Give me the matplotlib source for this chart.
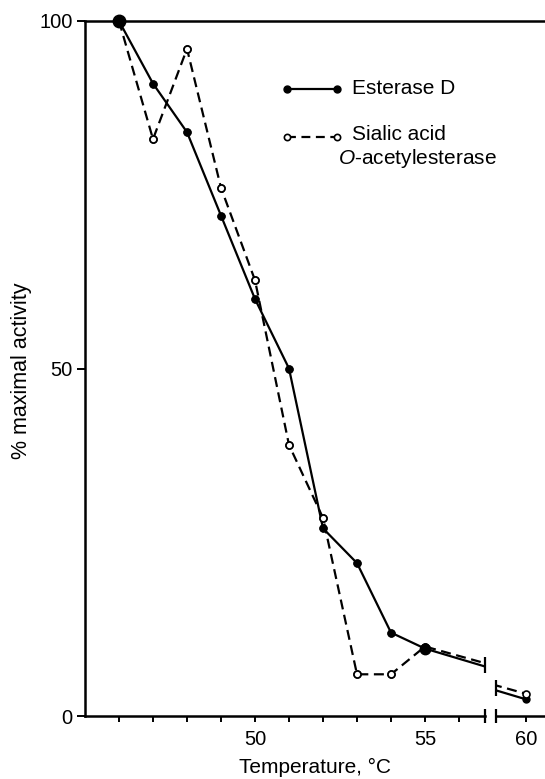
import numpy as np
import matplotlib
matplotlib.use("Agg")
import matplotlib.pyplot as plt
from matplotlib.lines import Line2D

plt.rcParams['font.family'] = ['Liberation Sans', 'DejaVu Sans']
plt.rcParams['mathtext.fontset'] = 'custom'
plt.rcParams['mathtext.rm'] = 'Liberation Sans'
plt.rcParams['mathtext.it'] = 'Liberation Sans:italic'

# ---- data ----
temps = [46, 47, 48, 49, 50, 51, 52, 53, 54, 55, 60]
esterase_d = [100, 91, 84, 72, 60, 50, 27, 22, 12, 9.7, 2.4]
sialic_oae = [100, 83, 96, 76, 62.7, 39, 28.5, 6, 6, 10, 3.2]
left_ticks = [46, 47, 48, 49, 50, 51, 52, 53, 54, 55, 56]
left_labels = ['', '', '', '', '50', '', '', '', '', '55', '']
right_ticks = [60]
right_labels = ['60']
y_ticks = [0, 50, 100]
y_labels = ['0', '50', '100']

W, H = 545, 779
fig = plt.figure(figsize=(W / 100, H / 100), dpi=100)

x0, xb1, xb2, x1 = 85, 485, 496, 545
ytop, ybot = 21, 716
px_per_deg = 34.0
xmin_left = 45.0
xmax_left = xmin_left + (xb1 - x0) / px_per_deg
xmin_right = 60 - (526 - xb2) / px_per_deg
xmax_right = 60 + (x1 - 526) / px_per_deg

axL = fig.add_axes([x0 / W, 1 - ybot / H, (xb1 - x0) / W, (ybot - ytop) / H])
axR = fig.add_axes([xb2 / W, 1 - ybot / H, (x1 - xb2) / W, (ybot - ytop) / H])

lw = 1.6
ms = 5
TFS = 14.5
for ax in (axL, axR):
    ax.plot(temps, esterase_d, '-', color='black', lw=lw, marker='o', ms=ms,
            mfc='black', mec='black', clip_on=True, zorder=3)
    ax.plot(temps, sialic_oae, '--', color='black', lw=lw, dashes=(4.5, 2.5),
            marker='o', ms=ms, mfc='white', mec='black', mew=1.2, clip_on=True, zorder=3)
    ax.set_ylim(0, 100)
    for s in ('top', 'right', 'left'):
        ax.spines[s].set_visible(False)
    ax.spines['bottom'].set_linewidth(1.8)
    ax.tick_params(axis='x', direction='out', length=4, width=1.4, pad=6, labelsize=TFS)

# markers on the top edge should not be clipped
axL.plot(temps[:10], esterase_d[:10], 'o', ms=ms, mfc='black', mec='black',
         clip_on=False, zorder=4)
axL.plot(temps[:10], sialic_oae[:10], 'o', ms=ms, mfc='white', mec='black', mew=1.2,
         clip_on=False, zorder=4)
axL.plot(temps[:1], esterase_d[:1], 'o', ms=9, mfc='black', mec='black',
         clip_on=False, zorder=5)
axL.plot(temps[9:10], esterase_d[9:10], 'o', ms=7.5, mfc='black', mec='black',
         clip_on=False, zorder=5)

axL.set_xlim(xmin_left, xmax_left)
axR.set_xlim(xmin_right, xmax_right)
axL.set_xticks(left_ticks)
axL.set_xticklabels(left_labels)
axR.set_xticks(right_ticks)
axR.set_xticklabels(right_labels)

axL.spines['left'].set_visible(True)
axL.spines['left'].set_linewidth(1.8)
axL.set_yticks(y_ticks)
axL.set_yticklabels(y_labels)
axL.tick_params(axis='y', direction='out', length=6, width=1.4, pad=3, labelsize=TFS)
axR.set_yticks([])

# break marks on the axis and on the lines
for ax, xv in ((axL, xmax_left), (axR, xmin_right)):
    ax.plot([xv], [0], marker='|', ms=10, mew=1.6, color='black', clip_on=False, zorder=5)
    ye = np.interp(xv, temps[-2:], esterase_d[-2:])
    ys = np.interp(xv, temps[-2:], sialic_oae[-2:])
    ax.plot([xv], [(ye + ys) / 2], marker='|', ms=12, mew=1.6, color='black',
            clip_on=False, zorder=5)

# top frame line across the whole width
fig.add_artist(Line2D([x0 / W, 1.0], [1 - ytop / H] * 2, color='black', lw=1.8))

def fx(p):
    return p / W

def fy(p):
    return 1 - p / H

# legend (drawn manually)
LFS = 15
fig.add_artist(Line2D([fx(287), fx(337)], [fy(89)] * 2, color='black', lw=lw,
                      marker='o', ms=ms, mfc='black', mec='black'))
fig.add_artist(Line2D([fx(287), fx(337)], [fy(137)] * 2, color='black', lw=lw,
                      ls='--', dashes=(4, 2.5), marker='o', ms=ms - 0.5, mfc='white',
                      mec='black', mew=1.2))
fig.text(fx(352), fy(89), 'Esterase D', fontsize=LFS, va='center', ha='left')
fig.text(fx(352), fy(135), 'Sialic acid', fontsize=LFS, va='center', ha='left')
fig.text(fx(338), fy(158), r'$\it{O}$-acetylesterase', fontsize=LFS, va='center', ha='left')

# axis labels
fig.text(fx(22), fy(371), '% maximal activity', rotation=90, fontsize=15.5,
         ha='center', va='center')
fig.text(fx(315), fy(767), 'Temperature, °C', fontsize=15, ha='center', va='center')

fig.savefig('out.png', dpi=100)
